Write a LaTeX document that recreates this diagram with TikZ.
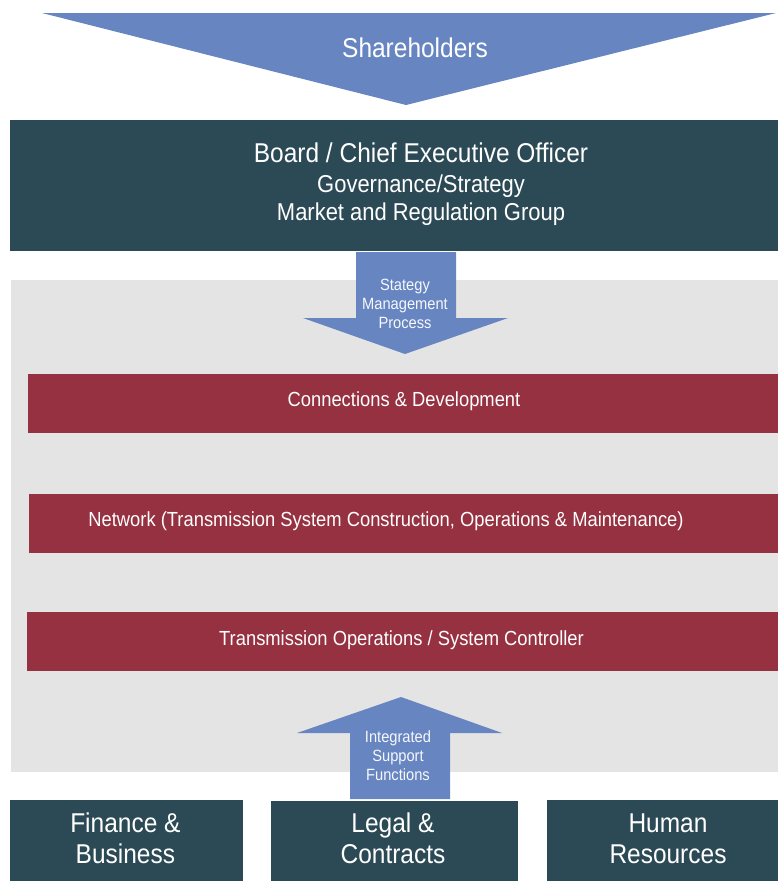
\documentclass[tikz,border=0pt]{standalone}
\usepackage{fontspec}
% a narrowed sans, close to a condensed grotesque
\setmainfont[FakeStretch=0.9]{Liberation Sans}
\definecolor{arrowblue}{HTML}{6785C1}
\definecolor{deepteal}{HTML}{2C4A55}
\definecolor{unitred}{HTML}{963141}
\definecolor{panelgrey}{HTML}{E4E4E4}
\begin{document}
\begin{tikzpicture}[x=1pt,y=-1pt,
  every node/.style={inner sep=0pt, outer sep=0pt},
  block/.style={anchor=north west, inner sep=0pt, outer sep=0pt},
  txt/.style={text=white, anchor=base},
  bigtxt/.style={txt, font=\fontsize{27.2}{32}\selectfont},
  midtxt/.style={txt, font=\fontsize{24.4}{29}\selectfont},
  bartxt/.style={txt, font=\fontsize{20.4}{24}\selectfont},
  arrowtxt/.style={anchor=base, text=white!94!arrowblue, font=\fontsize{16.3}{19}\selectfont}]
\useasboundingbox (0,0) rectangle (778,881);

% shareholders wedge
\fill[arrowblue] (42,13) -- (776,13) -- (406,105) -- cycle;
\node[bigtxt] (share) at (415,57.7) {Shareholders};

% board
\node[block, fill=deepteal, minimum width=768pt, minimum height=131pt] (board) at (10,120) {};
\node[bigtxt] (board1) at (421,162) {Board / Chief Executive Officer};
\node[midtxt] (board2) at (421,192) {Governance/Strategy};
\node[midtxt] (board3) at (421,220.5) {Market and Regulation Group};

% grey panel holding the business units
\node[block, fill=panelgrey, minimum width=767pt, minimum height=492pt] (panel) at (11,280) {};

% strategy arrow
\fill[arrowblue] (356,252) -- (456,252) -- (456,318) -- (508,318) -- (405,354)
  -- (303,318) -- (356,318) -- cycle;
\node[arrowtxt] (sm1) at (405,290) {Stategy};
\node[arrowtxt] (sm2) at (405,309.3) {Management};
\node[arrowtxt] (sm3) at (405,328.5) {Process};

% business units
\node[block, fill=unitred, minimum width=750pt, minimum height=59pt] (conn) at (28,374) {};
\node[bartxt] (conntxt) at (404,406.7) {Connections \& Development};
\node[block, fill=unitred, minimum width=749pt, minimum height=59pt] (net) at (29,494) {};
\node[bartxt] (nettxt) at (386,526.7) {Network (Transmission System Construction, Operations \& Maintenance)};
\node[block, fill=unitred, minimum width=751pt, minimum height=59pt] (ops) at (27,612) {};
\node[bartxt] (opstxt) at (401.5,645) {Transmission Operations / System Controller};

% support arrow
\fill[arrowblue] (401,697) -- (502,733) -- (450,733) -- (450,799) -- (350,799)
  -- (350,733) -- (297,733) -- cycle;
\node[arrowtxt] (is1) at (398,742.5) {Integrated};
\node[arrowtxt] (is2) at (398,761.5) {Support};
\node[arrowtxt] (is3) at (398,780.5) {Functions};

% support functions
\node[block, fill=deepteal, minimum width=233pt, minimum height=81pt] (fin) at (10,800) {};
\node[bigtxt] (fin1) at (125.4,832) {Finance \&};
\node[bigtxt] (fin2) at (125.4,863) {Business};
\node[block, fill=deepteal, minimum width=247pt, minimum height=80pt] (legal) at (271,801) {};
\node[bigtxt] (legal1) at (393,832) {Legal \&};
\node[bigtxt] (legal2) at (393,863) {Contracts};
\node[block, fill=deepteal, minimum width=231pt, minimum height=81pt] (hr) at (547,800) {};
\node[bigtxt] (hr1) at (668,832) {Human};
\node[bigtxt] (hr2) at (668,863) {Resources};
\end{tikzpicture}
\end{document}
